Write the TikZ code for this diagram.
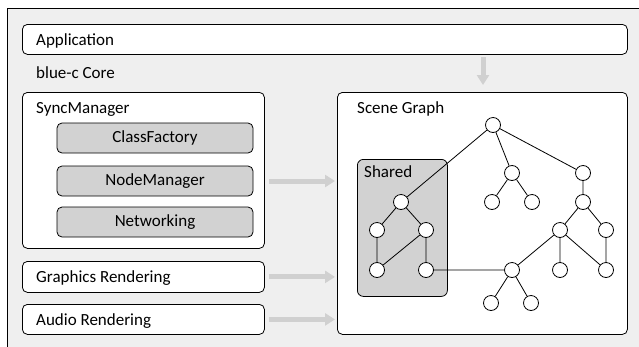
\documentclass[tikz,border=0pt]{standalone}
\usepackage{fontspec}
\setmainfont{Carlito}
\usetikzlibrary{arrows.meta}
\definecolor{panel}{HTML}{EFEFEF}
\definecolor{inner}{HTML}{D2D2D2}
\definecolor{flowgray}{HTML}{D0D0D0}
\tikzset{
  box/.style={draw=black, line width=0.8pt, fill=white, rounded corners=5pt,
    anchor=north west, inner sep=0pt},
  subbox/.style={box, fill=inner, anchor=center, minimum width=196pt, minimum height=30pt,
    font=\fontsize{17}{19}\selectfont},
  lbl/.style={anchor=base west, inner sep=0pt, font=\fontsize{17}{19}\selectfont},
  gnode/.style={circle, draw=black, line width=0.8pt, fill=white, minimum size=15pt, inner sep=0pt},
  edge/.style={draw=black, line width=0.8pt},
  flow/.style={draw=flowgray, line width=5pt,
    -{Triangle[width=12pt, length=10pt]}}
}
\begin{document}
\begin{tikzpicture}[x=1pt, y=-1pt]
\useasboundingbox (0,0) rectangle (639,346);
\clip (0,0) rectangle (639,346);
% outer frame of the core
\path[fill=panel, draw=black, line width=0.8pt] (7,8) rectangle (650,360);

% application layer
\node[box, minimum width=605pt, minimum height=30pt] (app) at (22,24) {};
\node[lbl] (applbl) at (36,45) {Application};
\node[lbl] (corelbl) at (36,78) {blue-c Core};

% sync manager and its parts
\node[box, minimum width=242pt, minimum height=156pt] (sync) at (22,92) {};
\node[lbl] (synclbl) at (36,113) {SyncManager};
\node[subbox] (cf) at (155,138) {ClassFactory};
\node[subbox] (nm) at (155,181) {NodeManager};
\node[subbox] (net) at (155,222) {Networking};

% renderers
\node[box, minimum width=242pt, minimum height=31pt] (gfx) at (22,261) {};
\node[lbl] (gfxlbl) at (36,282) {Graphics Rendering};
\node[box, minimum width=242pt, minimum height=30pt] (audio) at (22,304) {};
\node[lbl] (audiolbl) at (36,325) {Audio Rendering};

% scene graph
\node[box, minimum width=290pt, minimum height=242pt] (scene) at (337,92) {};
\node[lbl] (scenelbl) at (357,113) {Scene Graph};
\node[box, fill=inner, rounded corners=6pt, minimum width=90pt, minimum height=137pt] (shared) at (357,159) {};
\node[lbl] (sharedlbl) at (364,177) {Shared};

% flows into the scene graph
\coordinate (appin) at (483,57);
\draw[flow, shorten >=7pt] (appin) -- (appin |- scene.north);
\draw[flow, shorten <=4pt, shorten >=2pt] (sync.east |- nm.center) -- (scene.west |- nm.center);
\draw[flow, shorten <=4pt, shorten >=2pt] (gfx.east) -- (scene.west |- gfx.east);
\draw[flow, shorten <=4pt, shorten >=2pt] (audio.east) -- (scene.west |- audio.east);

% tree nodes
\node[gnode] (r)   at (493,125) {};
\node[gnode] (a)   at (512,173) {};
\node[gnode] (b)   at (583,173) {};
\node[gnode] (s)   at (401,202) {};
\node[gnode] (a1)  at (492,202) {};
\node[gnode] (a2)  at (532,202) {};
\node[gnode] (b1)  at (583,202) {};
\node[gnode] (s1)  at (377,230) {};
\node[gnode] (s2)  at (426,230) {};
\node[gnode] (c)   at (560,230) {};
\node[gnode] (d)   at (606,230) {};
\node[gnode] (s3)  at (377,270) {};
\node[gnode] (s4)  at (426,270) {};
\node[gnode] (e)   at (512,270) {};
\node[gnode] (c2)  at (560,270) {};
\node[gnode] (f)   at (606,270) {};
\node[gnode] (e1)  at (491,303) {};
\node[gnode] (e2)  at (531,303) {};

% tree edges
\path[edge] (r) -- (s) (r) -- (a) (r) -- (b)
  (a) -- (a1) (a) -- (a2) (b) -- (b1)
  (s) -- (s1) (s) -- (s2) (s1) -- (s3) (s2) -- (s3) (s2) -- (s4)
  (b1) -- (c) (b1) -- (d)
  (c) -- (e) (c) -- (c2) (c) -- (f) (d) -- (f)
  (e) -- (e1) (e) -- (e2)
  (s4) -- (e);
\end{tikzpicture}
\end{document}
